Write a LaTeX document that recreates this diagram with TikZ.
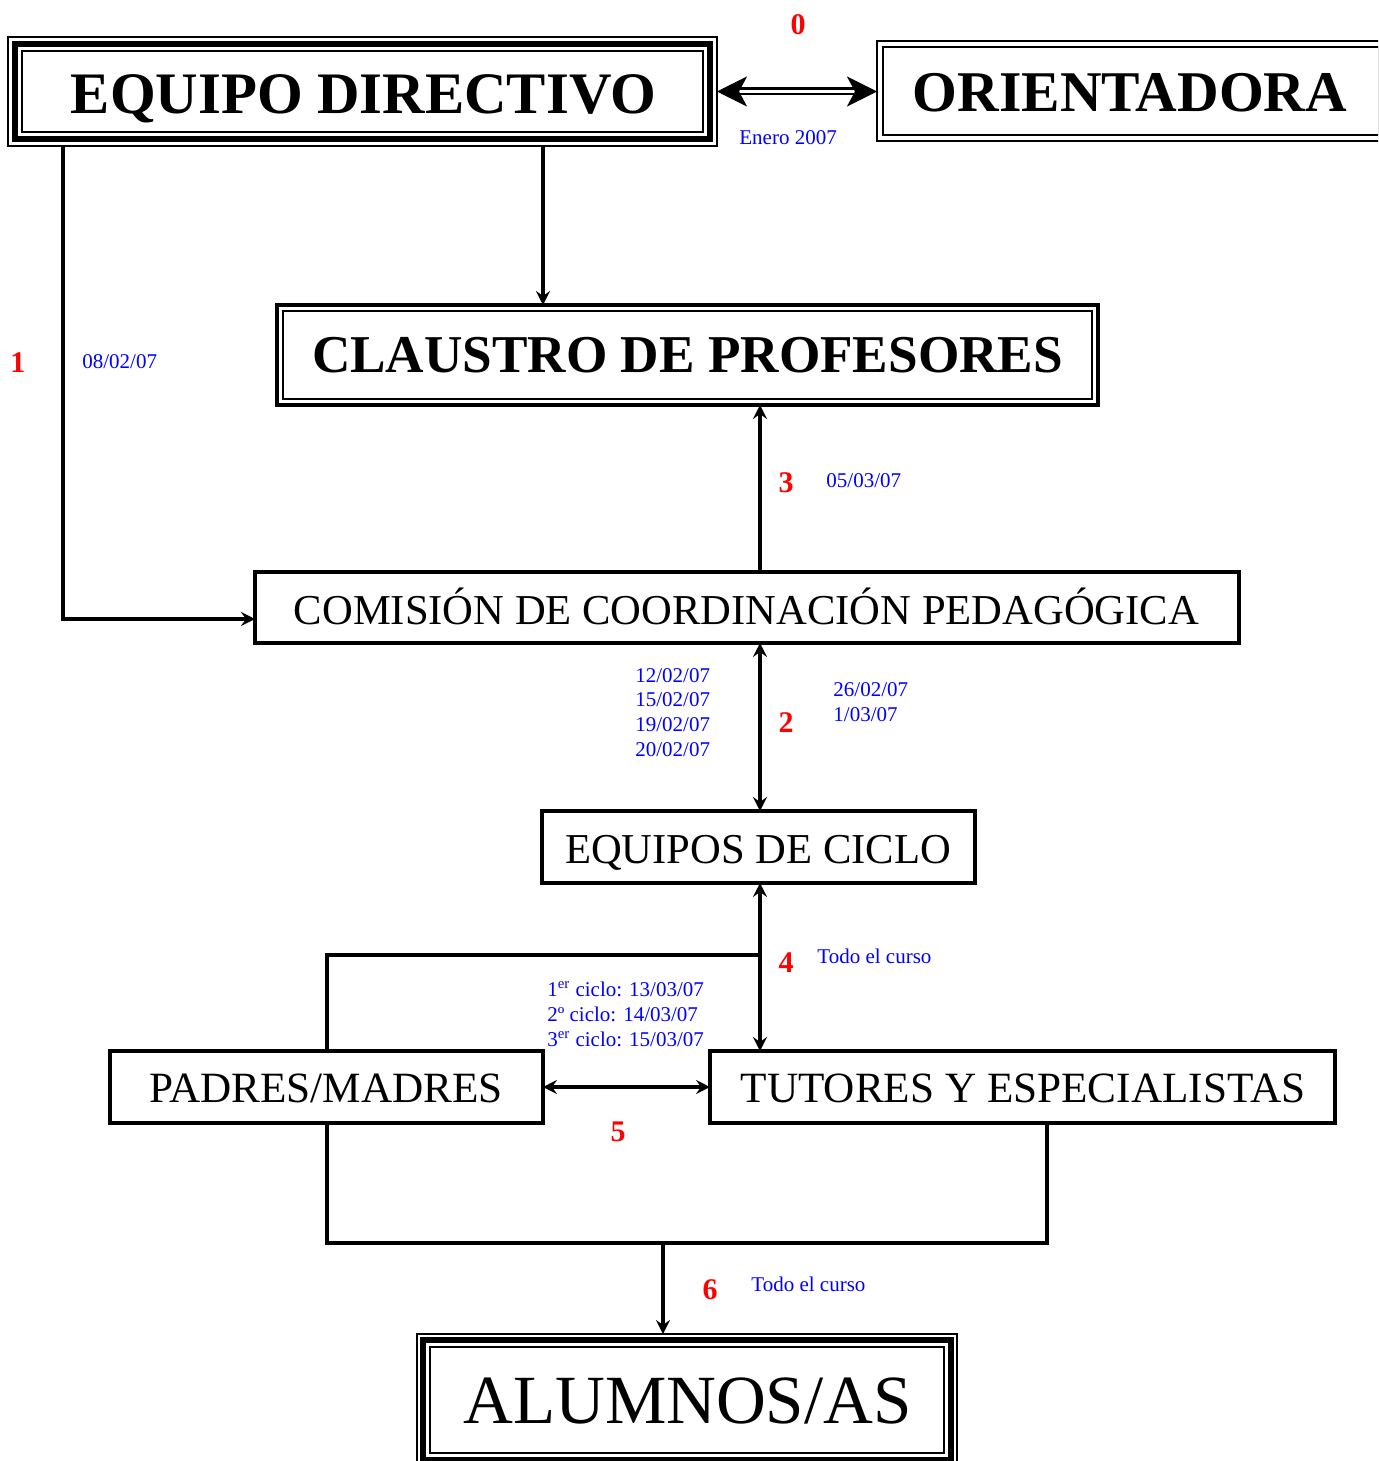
\documentclass[tikz,border=0pt]{standalone}
\usepackage{fontspec}
\setmainfont{Liberation Serif}
\usetikzlibrary{arrows.meta,calc}
\begin{document}
\begin{tikzpicture}[x=0.5pt,y=-0.5pt,
  shell/.style={draw=none, inner sep=0pt, outer sep=0pt},
  single/.style={line width=1.7pt},
  thin/.style={line width=0.9pt},
  thick/.style={line width=2.6pt},
  conn/.style={line width=1.55pt},
  tip/.style={-{Stealth[inset=2.5pt,length=7pt,width=7pt]}},
  both/.style={{Stealth[inset=2.5pt,length=7pt,width=7pt]}-{Stealth[inset=2.5pt,length=7pt,width=7pt]}},
  num/.style={text=red, font=\fontsize{15}{16}\selectfont\bfseries, inner sep=0pt, anchor=base},
  date/.style={text=blue, font=\fontsize{10.5}{12}\selectfont, inner sep=0pt, anchor=base west},
  bigtxt/.style={font=\bfseries, inner sep=0pt, anchor=base},
  midtxt/.style={font=\fontsize{21.3}{22}\selectfont, inner sep=0pt, anchor=base}]

\clip (0,0) rectangle (1378,1461);
\fill[white] (0,0) rectangle (1378,1461);

% ---------- boxes ----------
\node[shell, minimum width=354.5pt, minimum height=54.5pt] (ed) at (362.5,91.5) {};
\draw[thin]  (ed.north west) rectangle (ed.south east);
\draw[thick] ($(ed.north west)+(7,7)$) rectangle ($(ed.south east)+(-7,-7)$);
\draw[thin]  ($(ed.north west)+(14,14)$) rectangle ($(ed.south east)+(-14,-14)$);
\node[bigtxt, font=\fontsize{29.4}{30}\selectfont\bfseries] (edt) at (363.5,113) {EQUIPO DIRECTIVO};

\node[shell, minimum width=254pt, minimum height=50pt] (or) at (1131,91) {};
\draw[thin] (or.north west) rectangle (or.south east);
\draw[thin] ($(or.north west)+(6,6)$) rectangle ($(or.south east)+(-6,-6)$);
\node[bigtxt, font=\fontsize{28.8}{30}\selectfont\bfseries] (ort) at (1130,112) {ORIENTADORA};

\node[shell, minimum width=410.5pt, minimum height=50pt] (cl) at (687.5,355) {};
\draw[line width=1.6pt] (cl.north west) rectangle (cl.south east);
\draw[thin] ($(cl.north west)+(6,6)$) rectangle ($(cl.south east)+(-6,-6)$);
\node[bigtxt, font=\fontsize{26.6}{28}\selectfont\bfseries] (clt) at (687.5,372) {CLAUSTRO DE PROFESORES};

\node[shell, draw, single, minimum width=492pt, minimum height=35.5pt] (cc) at (747,607.5) {};
\node[midtxt] (cct) at (746.5,624) {COMISIÓN DE COORDINACIÓN PEDAGÓGICA};

\node[shell, draw, single, minimum width=216.5pt, minimum height=36pt] (ec) at (758.5,847) {};
\node[midtxt] (ect) at (758,863) {EQUIPOS DE CICLO};

\node[shell, draw, single, minimum width=216.5pt, minimum height=36pt] (pm) at (326.5,1087) {};
\node[midtxt, font=\fontsize{21.6}{22}\selectfont] (pmt) at (326,1102) {PADRES/MADRES};

\node[shell, draw, single, minimum width=312.5pt, minimum height=36pt] (tu) at (1022.5,1087) {};
\node[midtxt, font=\fontsize{21.6}{22}\selectfont] (tut) at (1023,1102) {TUTORES Y ESPECIALISTAS};

\node[shell, minimum width=270pt, minimum height=66pt] (al) at (687,1400) {};
\draw[thin]  (al.north west) rectangle (al.south east);
\draw[thick] ($(al.north west)+(6,6)$) rectangle ($(al.south east)+(-6,-6)$);
\draw[thin]  ($(al.north west)+(13,13)$) rectangle ($(al.south east)+(-13,-13)$);
\node[bigtxt, font=\fontsize{34.5}{36}\selectfont] (alt) at (687.5,1423) {ALUMNOS/AS};

% ---------- connectors ----------
\draw[line width=1.4pt, double, double distance=1.2pt,
  {Stealth[inset=4pt,length=15pt,width=15pt]}-{Stealth[inset=4pt,length=15pt,width=15pt]}]
  (ed.east) -- (ed.east -| or.west);

\draw[conn,tip] ($(ed.south west)+(55,0)$) |- ($(cc.south west)+(0,-24)$);
\draw[conn,tip] ($(ed.south west)+(535,0)$) -- ($(cl.north west)+(266,0)$);
\draw[conn,tip] ($(cc.north west)+(505,0)$) -- ($(cl.south west)+(483,0)$);
\draw[conn,both] ($(cc.south west)+(505,0)$) -- ($(ec.north west)+(218,0)$);
\draw[conn,both] ($(ec.south west)+(218,0)$) -- ($(tu.north west)+(50,0)$);
\coordinate (j4) at ($(ec.south west)+(218,72)$);
\draw[conn] (j4) -| ($(pm.north west)+(217,0)$);
\draw[conn,both] (pm.east) -- (tu.west);
\draw[conn] ($(pm.south west)+(217,0)$) -- ++(0,120) -| ($(tu.south west)+(337,0)$);
\coordinate (j6) at ($(pm.south west)+(553,120)$);
\draw[conn,tip] (j6) -- (j6 |- al.north);

% ---------- labels ----------
\node[num] (n0) at (798,35) {0};
\node[date] (d0) at (739,144) {Enero 2007};
\node[num] (n1) at (18,372) {1};
\node[date] (d1) at (82,368) {08/02/07};
\node[num] (n3) at (786,492) {3};
\node[date] (d3) at (826,487) {05/03/07};
\node[num] (n2) at (786,732) {2};
\node[date] (d2a) at (635,682) {12/02/07};
\node[date] (d2b) at (635,706) {15/02/07};
\node[date] (d2c) at (635,731) {19/02/07};
\node[date] (d2d) at (635,756) {20/02/07};
\node[date] (d2e) at (833,696) {26/02/07};
\node[date] (d2f) at (833,721) {1/03/07};
\node[num] (n4) at (786,972) {4};
\node[date] (d4) at (817,963) {Todo el curso};
\node[date] (c1) at (547,996) {1\textsuperscript{er} ciclo: 13/03/07};
\node[date] (c2) at (547,1021) {2º ciclo: 14/03/07};
\node[date] (c3) at (547,1046) {3\textsuperscript{er} ciclo: 15/03/07};
\node[num] (n5) at (618,1141) {5};
\node[num] (n6) at (710,1299) {6};
\node[date] (d6) at (751,1291) {Todo el curso};
\end{tikzpicture}
\end{document}
